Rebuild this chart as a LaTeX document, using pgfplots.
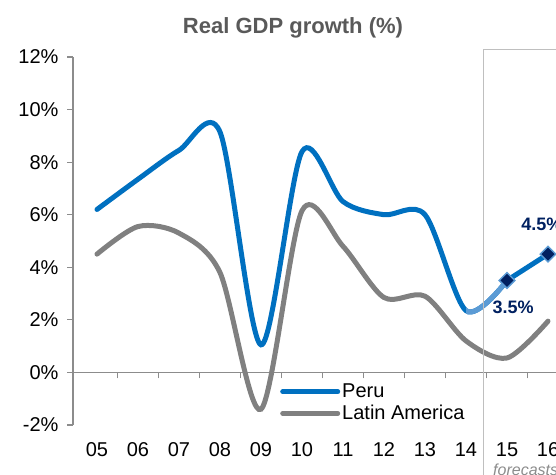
\documentclass[border=0pt]{standalone}
\usepackage{pgfplots}
\pgfplotsset{compat=1.18}
\usepackage{fontspec}
\setmainfont{Liberation Sans}
\definecolor{peru}{HTML}{0070C0}
\definecolor{perulight}{HTML}{5B9BD5}
\definecolor{lat}{HTML}{808080}
\definecolor{navy}{HTML}{002060}
\definecolor{axgray}{HTML}{8C8C8C}
\definecolor{boxgray}{HTML}{BFBFBF}
\definecolor{titlegray}{HTML}{595959}
\begin{document}
\begin{tikzpicture}
\useasboundingbox (-73pt,-49pt) rectangle (483pt,425pt);
\clip (-73pt,-49pt) rectangle (483pt,425pt);
\begin{axis}[
  at={(0pt,0pt)}, anchor=south west,
  scale only axis, width=503.7pt, height=368pt,
  xmin=-0.585, xmax=11.7, ymin=-2, ymax=12,
  axis y line=left, axis x line=middle,
  axis line style={-, axgray, line width=1.5pt},
  tick align=outside, major tick length=6pt,
  tick style={axgray, line width=1.2pt},
  ytick={-2,0,...,12},
  yticklabels={-2\%,0\%,2\%,4\%,6\%,8\%,10\%,12\%},
  yticklabel style={xshift=-5pt},
  xtick={0.5,1.5,...,11.5}, xticklabel=\empty,
  extra x ticks={0,1,...,11},
  extra x tick labels={05,06,07,08,09,10,11,12,13,14,15,16},
  extra x tick style={major tick length=0pt, xticklabel style={yshift=-67pt}},
  tick label style={font=\fontsize{20}{24}\selectfont},
  legend style={at={(0.411,0.117)}, anchor=north west, draw=none, fill=none,
    font=\fontsize{20}{24}\selectfont, inner sep=0pt, row sep=2pt},
  legend cell align=left,
  legend image code/.code={\draw[#1, line cap=round] (0pt,0pt) -- (55pt,0pt);},
]
\addplot[peru, line width=5pt, smooth, line cap=round] coordinates {(0,6.2)(1,7.35)(2,8.45)(3,9.15)(4,1.05)(5,8.4)(6,6.5)(7,6.0)(8,6.0)(9,2.35)(10,3.5)};
\addlegendentry{Peru}
\begin{scope}
\clip (axis cs:9,-2) rectangle (axis cs:10.2,12);
\addplot[perulight, line width=5pt, smooth, forget plot] coordinates {(0,6.2)(1,7.35)(2,8.45)(3,9.15)(4,1.05)(5,8.4)(6,6.5)(7,6.0)(8,6.0)(9,2.35)(10,3.5)};
\end{scope}
\addplot[lat, line width=5pt, smooth, line cap=round] coordinates {(0,4.5)(1,5.55)(2,5.3)(3,3.8)(4,-1.4)(5,6.15)(6,4.8)(7,2.85)(8,2.9)(9,1.2)(10,0.55)(11,1.95)};
\addlegendentry{Latin America}
\addplot[peru, line width=5pt, forget plot] coordinates {(10,3.5)(11,4.5)};
\addplot[only marks, mark=square*, mark size=5.5pt, mark options={rotate=45, fill=navy, draw=perulight, line width=1.5pt}, forget plot] coordinates {(10,3.5)(11,4.5)};
\node[font=\bfseries\fontsize{18}{22}\selectfont, text=navy] at (axis cs:10.15,2.47) {3.5\%};
\node[font=\bfseries\fontsize{18}{22}\selectfont, text=navy] at (axis cs:10.85,5.63) {4.5\%};
\end{axis}
\draw[boxgray, line width=1pt] (410pt,-60pt) -- (410pt,375pt) -- (520pt,375pt);
\node[font=\bfseries\fontsize{22}{26}\selectfont, text=titlegray] at (220pt,397pt) {Real GDP growth (\%)};
\node[font=\itshape\fontsize{16}{19}\selectfont, text=axgray, anchor=base west, inner sep=0pt] at (420pt,-50pt) {forecasts};
\end{tikzpicture}
\end{document}
